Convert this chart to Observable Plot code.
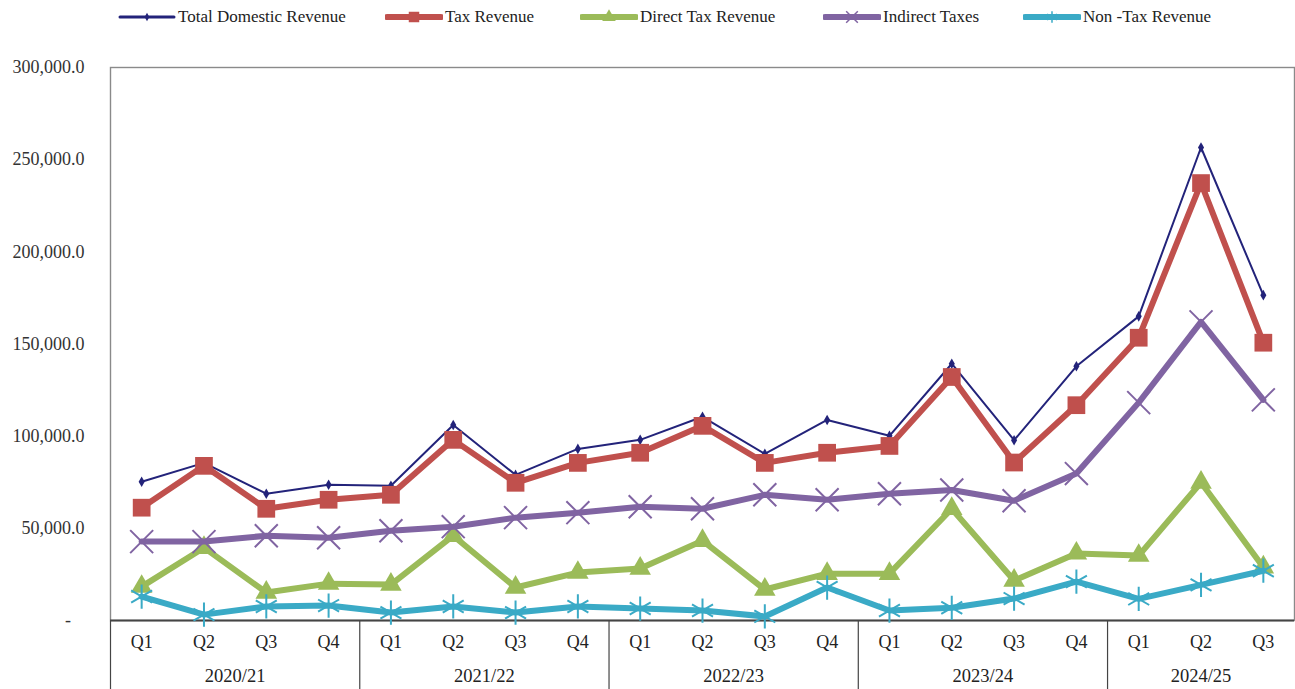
<!DOCTYPE html>
<html>
<head>
<meta charset="utf-8">
<script src="https://cdn.jsdelivr.net/npm/d3@7"></script>
<script src="https://cdn.jsdelivr.net/npm/@observablehq/plot@0.6"></script>
<style>
  html, body { margin: 0; padding: 0; background: #fff; }
  body { width: 1295px; height: 689px; overflow: hidden; font-family: "Liberation Serif", "DejaVu Serif", serif; }
  #legend { position: relative; height: 34px; }
  .item { position: absolute; top: 7px; display: flex; align-items: center; font-size: 17px; color: #222; white-space: nowrap; }
  .item svg { display: block; margin-right: 2px; }
  #chart svg { display: block; overflow: visible; }
</style>
</head>
<body>
<div id="legend"></div>
<div id="chart"></div>
<script>
// ---- data ----
const fiscalYears = ["2020/21", "2021/22", "2022/23", "2023/24", "2024/25"];
const quartersPerYear = [4, 4, 4, 4, 3];
const quarterNames = ["Q1", "Q2", "Q3", "Q4"];

const seriesNames = ["Total Domestic Revenue", "Tax Revenue", "Direct Tax Revenue", "Indirect Taxes", "Non -Tax Revenue"];

const totalDomesticRevenue = [75300, 85500, 68800, 73600, 73100, 106100, 79000, 93100, 98000, 110500, 90400, 108800, 100200, 139300, 97800, 137900, 165000, 256600, 176500];
const taxRevenue = [61200, 83900, 60600, 65500, 68200, 98000, 74700, 85500, 91000, 105600, 85500, 91000, 94700, 132100, 85700, 116800, 153400, 237300, 150700];
const directTaxRevenue = [18400, 39500, 15200, 20000, 19500, 46000, 17900, 26000, 28200, 43300, 16800, 25400, 25400, 60600, 21700, 36400, 35200, 74900, 28900];
const indirectTaxes = [42800, 42800, 46000, 44900, 48700, 50900, 55800, 58500, 61700, 60600, 68200, 65500, 68800, 70800, 65000, 79700, 118200, 162000, 119700];
const nonTaxRevenue = [13000, 3200, 7600, 8100, 4300, 7600, 4300, 7600, 6500, 5400, 2200, 17900, 5400, 6900, 11900, 21100, 11700, 19300, 27000];

const yTicks = [0, 50000, 100000, 150000, 200000, 250000, 300000];

// ---- styles ----
const seriesStyles = [
  {color: "#23237a", width: 2, symbol: "diamond", r: 3.2, fill: true},
  {color: "#c0504d", width: 6, symbol: "square", r: 10, fill: true},
  {color: "#9bbb59", width: 6, symbol: "triangle", r: 8, fill: true},
  {color: "#8064a2", width: 6, symbol: "times", r: 10.5, fill: false},
  {color: "#3aaac6", width: 6, symbol: "asterisk", r: 11.5, fill: false}
];
const seriesValues = [totalDomesticRevenue, taxRevenue, directTaxRevenue, indirectTaxes, nonTaxRevenue];

// ---- build rows ----
const periods = [];
fiscalYears.forEach((fy, yi) => {
  for (let q = 0; q < quartersPerYear[yi]; q++) {
    periods.push({i: periods.length, year: fy, quarter: quarterNames[q]});
  }
});
const yearRows = fiscalYears.map(fy => {
  const idx = periods.filter(p => p.year === fy).map(p => p.i);
  return {year: fy, start: d3.min(idx) - 0.5, center: d3.mean(idx)};
});

const W = 1295;
const xDomain = [-0.5, periods.length - 0.5];
const fontFamily = "Liberation Serif";

const marks = [
  Plot.axisY({ticks: yTicks, tickSize: 0, tickPadding: 26, fontSize: 18, label: null,
    tickFormat: d => d === 0 ? "-   " : d3.format(",.1f")(d)}),
  Plot.frame({stroke: "#8a8a8a", strokeWidth: 1.4}),
  Plot.ruleY([0], {stroke: "#444", strokeWidth: 2})
];
seriesValues.forEach((vals, s) => {
  const st = seriesStyles[s];
  const rows = periods.map(p => ({i: p.i, v: vals[p.i]}));
  marks.push(Plot.line(rows, {x: "i", y: "v", stroke: st.color, strokeWidth: st.width, strokeLinejoin: "round"}));
  marks.push(Plot.dot(rows, st.fill
    ? {x: "i", y: "v", symbol: () => st.symbol, r: st.r, fill: st.color, stroke: "none"}
    : {x: "i", y: "v", symbol: () => st.symbol, r: st.r, stroke: st.color, strokeWidth: 2, fill: "none"}));
});

const main = Plot.plot({
  width: W, height: 587,
  marginTop: 33, marginBottom: 1, marginLeft: 110, marginRight: 1,
  style: {fontFamily, fontSize: "18px", color: "#333", background: "transparent", overflow: "visible"},
  x: {domain: xDomain, axis: null},
  y: {domain: [0, 300000], axis: null},
  symbol: {type: "identity"},
  marks
});

const axisPlot = Plot.plot({
  width: W, height: 68,
  marginTop: 0, marginBottom: 0, marginLeft: 110, marginRight: 1,
  style: {fontFamily, fontSize: "18px", color: "#222", background: "transparent", overflow: "visible"},
  x: {domain: xDomain, axis: null},
  y: {domain: [0, 1], axis: null},
  marks: [
    Plot.ruleX(yearRows, {x: "start", stroke: "#444", strokeWidth: 1.2}),
    Plot.text(periods, {x: "i", text: "quarter", frameAnchor: "top", lineAnchor: "middle", dy: 21, fontSize: 18, fill: "#222"}),
    Plot.text(yearRows, {x: "center", text: "year", frameAnchor: "top", lineAnchor: "middle", dy: 55, fontSize: 18.5, fill: "#222"})
  ]
});

document.getElementById("chart").append(main, axisPlot);

// ---- legend ----
const legendLeft = [118, 385, 580, 823, 1023];
const legend = d3.select("#legend");
seriesNames.forEach((name, s) => {
  const st = seriesStyles[s];
  const item = legend.append("div").attr("class", "item").style("left", legendLeft[s] + "px");
  const sv = item.append("svg").attr("width", 58).attr("height", 20);
  sv.append("line").attr("x1", 2).attr("x2", 56).attr("y1", 10).attr("y2", 10)
    .attr("stroke", st.color).attr("stroke-width", s === 0 ? 3 : 6).attr("stroke-linecap", "round");
  const sym = d3.symbol(s === 0 ? d3.symbolDiamond : s === 1 ? d3.symbolSquare : s === 2 ? d3.symbolTriangle : s === 3 ? d3.symbolTimes : d3.symbolAsterisk,
    s === 0 ? 20 : s === 1 ? 110 : s === 2 ? 80 : 90)();
  sv.append("path").attr("d", sym).attr("transform", "translate(29,10)")
    .attr("fill", st.fill ? st.color : "none").attr("stroke", st.fill ? "none" : st.color).attr("stroke-width", 1.5);
  item.append("span").text(name);
});
</script>
</body>
</html>
